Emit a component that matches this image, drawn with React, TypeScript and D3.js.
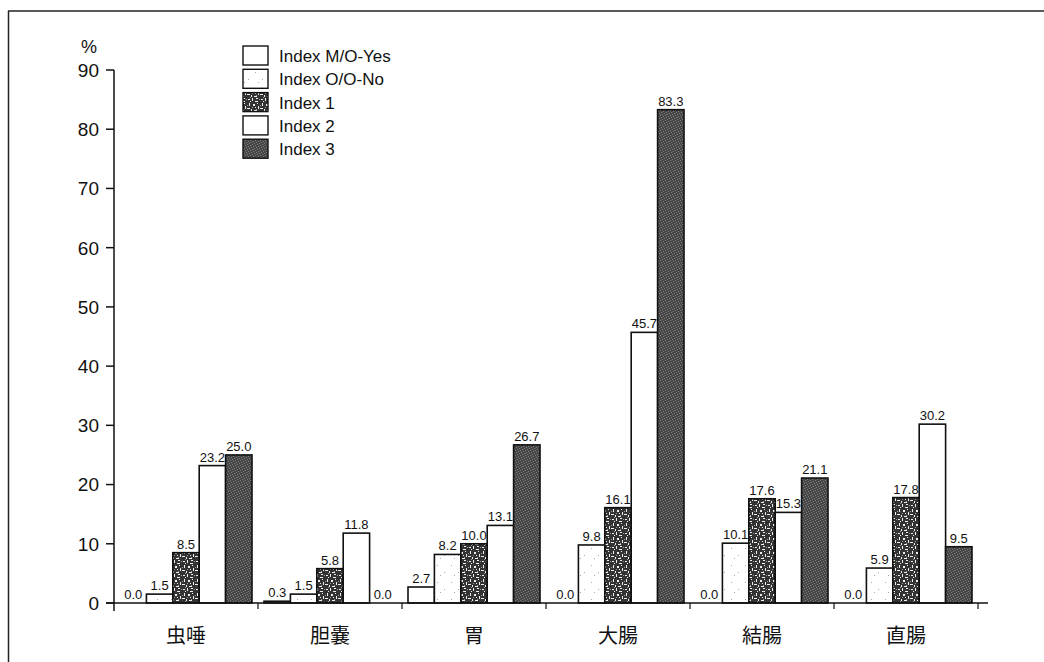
import React, { useEffect, useRef } from "react";
import * as d3 from "d3";

// Sites (x categories)
const categories = ["虫唾", "胆嚢", "胃", "大腸", "結腸", "直腸"];
// Series names, in legend / bar order
const seriesNames = ["Index M/O-Yes", "Index O/O-No", "Index 1", "Index 2", "Index 3"];
// Percentages per series, one value per site
const mOYes = [0.0, 0.3, 2.7, 0.0, 0.0, 0.0];
const oONo = [1.5, 1.5, 8.2, 9.8, 10.1, 5.9];
const index1 = [8.5, 5.8, 10.0, 16.1, 17.6, 17.8];
const index2 = [23.2, 11.8, 13.1, 45.7, 15.3, 30.2];
const index3 = [25.0, 0.0, 26.7, 83.3, 21.1, 9.5];
const yTicks = [0, 10, 20, 30, 40, 50, 60, 70, 80, 90];

const seriesValues = [mOYes, oONo, index1, index2, index3];
const seriesFills = ["#ffffff", "url(#pat-dots)", "url(#pat-mottle)", "#ffffff", "url(#pat-stipple)"];

const W = 1044;
const H = 662;

export default function App() {
  const ref = useRef<SVGSVGElement | null>(null);

  useEffect(() => {
    const svg = d3.select(ref.current);
    svg.selectAll("*").remove();

    const defs = svg.append("defs");

    // sparse light dots
    const pd = defs.append("pattern").attr("id", "pat-dots").attr("patternUnits", "userSpaceOnUse")
      .attr("width", 14).attr("height", 17);
    pd.append("rect").attr("width", 14).attr("height", 17).attr("fill", "#fff");
    [[3, 4], [10, 11], [6, 14]].forEach(([cx, cy]) =>
      pd.append("rect").attr("x", cx).attr("y", cy).attr("width", 1).attr("height", 1).attr("fill", "#aaa"));

    // dark mottled texture with white flecks
    const pm = defs.append("pattern").attr("id", "pat-mottle").attr("patternUnits", "userSpaceOnUse")
      .attr("width", 13).attr("height", 14);
    pm.append("rect").attr("width", 13).attr("height", 14).attr("fill", "#333");
    [[1, 1, 2, 1], [5, 0, 1, 3], [8, 3, 3, 1], [2, 5, 1, 3], [6, 6, 2, 2], [11, 8, 1, 3], [0, 10, 3, 1],
      [4, 11, 1, 2], [9, 0, 2, 1], [7, 12, 3, 1], [10, 5, 1, 1], [3, 3, 1, 1], [8, 9, 1, 1]]
      .forEach(([x, y, w, h]) =>
        pm.append("rect").attr("x", x).attr("y", y).attr("width", w).attr("height", h).attr("fill", "#eee"));
    [[12, 1], [0, 7], [5, 9], [9, 11], [3, 13]].forEach(([x, y]) =>
      pm.append("rect").attr("x", x).attr("y", y).attr("width", 1).attr("height", 1).attr("fill", "#999"));

    // fine grey stipple
    const ps = defs.append("pattern").attr("id", "pat-stipple").attr("patternUnits", "userSpaceOnUse")
      .attr("width", 5).attr("height", 5);
    ps.append("rect").attr("width", 5).attr("height", 5).attr("fill", "#474747");
    [[0, 0], [3, 1], [1, 2], [4, 3], [2, 4]].forEach(([x, y]) =>
      ps.append("rect").attr("x", x).attr("y", y).attr("width", 1).attr("height", 1).attr("fill", "#7d7d7d"));

    // page frame (top and left rules)
    svg.append("line").attr("x1", 8).attr("x2", W).attr("y1", 11).attr("y2", 11)
      .attr("stroke", "#222").attr("stroke-width", 1.5);
    svg.append("line").attr("x1", 8.5).attr("x2", 8.5).attr("y1", 11).attr("y2", H)
      .attr("stroke", "#222").attr("stroke-width", 1.5);

    const x = d3.scaleBand<string>().domain(categories).range([114, 978]);
    const xs = d3.scaleBand<string>().domain(seriesNames).range([6, x.bandwidth() - 6]);
    const y = d3.scaleLinear().domain([0, 90]).range([603, 70]);

    // bars
    seriesNames.forEach((name, si) => {
      const g = svg.append("g");
      categories.forEach((cat, ci) => {
        const v = seriesValues[si][ci];
        const bx = (x(cat) as number) + (xs(name) as number);
        const bw = xs.bandwidth();
        if (v > 0) {
          g.append("rect")
            .attr("x", bx).attr("y", y(v))
            .attr("width", bw).attr("height", y(0) - y(v))
            .attr("fill", seriesFills[si])
            .attr("stroke", "#111").attr("stroke-width", 1.6);
        }
        g.append("text")
          .attr("x", bx + bw / 2).attr("y", y(v) - 4)
          .attr("text-anchor", "middle")
          .attr("font-family", "'Liberation Sans Narrow', 'Arial Narrow', 'Liberation Sans', sans-serif")
          .attr("font-size", 13).attr("fill", "#111")
          .text(v.toFixed(1));
      });
    });

    // y axis
    svg.append("line").attr("x1", 114).attr("x2", 114).attr("y1", y(90)).attr("y2", 611)
      .attr("stroke", "#111").attr("stroke-width", 1.5);
    yTicks.forEach((t) => {
      svg.append("line").attr("x1", 106).attr("x2", 114).attr("y1", y(t)).attr("y2", y(t))
        .attr("stroke", "#111").attr("stroke-width", 1.5);
      svg.append("text").attr("x", 99).attr("y", y(t)).attr("dy", "0.36em")
        .attr("text-anchor", "end")
        .attr("font-family", "'Liberation Sans', Arial, sans-serif").attr("font-size", 19).attr("fill", "#111")
        .text(String(t));
    });
    svg.append("text").attr("x", 89).attr("y", 53).attr("text-anchor", "middle")
      .attr("font-family", "'Liberation Sans', Arial, sans-serif").attr("font-size", 18).attr("fill", "#111")
      .text("%");

    // x axis
    svg.append("line").attr("x1", 106).attr("x2", 988).attr("y1", y(0)).attr("y2", y(0))
      .attr("stroke", "#111").attr("stroke-width", 1.5);
    categories.forEach((cat, i) => {
      const b = x(cat) as number;
      if (i > 0) {
        svg.append("line").attr("x1", b).attr("x2", b).attr("y1", y(0)).attr("y2", y(0) + 6)
          .attr("stroke", "#111").attr("stroke-width", 1.2);
      }
      svg.append("text").attr("x", b + x.bandwidth() / 2).attr("y", 643)
        .attr("text-anchor", "middle")
        .attr("font-family", "'Noto Sans CJK JP', sans-serif").attr("font-size", 20).attr("fill", "#111")
        .text(cat);
    });
    svg.append("line").attr("x1", 978).attr("x2", 978).attr("y1", y(0)).attr("y2", y(0) + 6)
      .attr("stroke", "#111").attr("stroke-width", 1.2);

    // legend
    const lg = svg.append("g");
    seriesNames.forEach((name, i) => {
      const ly = 46 + i * 23.3;
      lg.append("rect").attr("x", 243).attr("y", ly).attr("width", 25).attr("height", 19)
        .attr("fill", seriesFills[i]).attr("stroke", "#111").attr("stroke-width", 1.4);
      lg.append("text").attr("x", 279).attr("y", ly + 10).attr("dy", "0.36em")
        .attr("font-family", "'Liberation Sans', Arial, sans-serif").attr("font-size", 17).attr("fill", "#111")
        .text(name);
    });
  }, []);

  return (
    <svg ref={ref} width={W} height={H}
      style={{ position: "absolute", left: 0, top: 0, background: "#fff" }} />
  );
}
